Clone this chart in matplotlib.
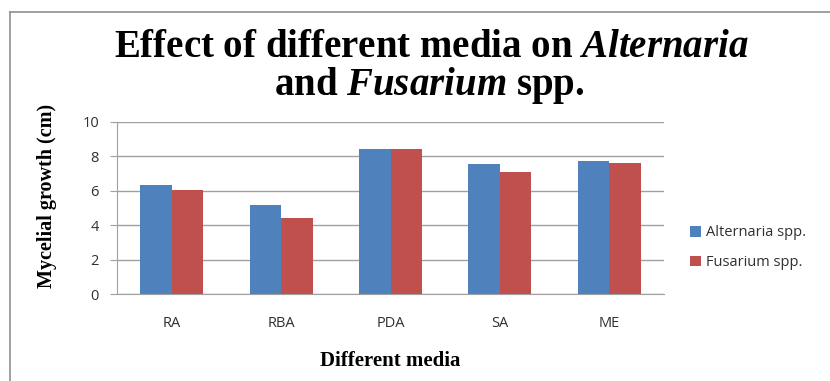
import matplotlib
matplotlib.use("Agg")
import matplotlib.pyplot as plt
from matplotlib.lines import Line2D
import numpy as np

# data
media = ["RA", "RBA", "PDA", "SA", "ME"]
alternaria = [6.34, 5.15, 8.45, 7.54, 7.72]
fusarium = [6.07, 4.41, 8.45, 7.12, 7.64]
series_names = ["Alternaria spp.", "Fusarium spp."]
yticks = [0, 2, 4, 6, 8, 10]

plt.rcParams['mathtext.fontset'] = 'custom'
plt.rcParams['mathtext.rm'] = 'Liberation Serif:bold'
plt.rcParams['mathtext.it'] = 'Liberation Serif:italic:bold'
plt.rcParams['mathtext.bf'] = 'Liberation Serif:bold'


def main():
    fig = plt.figure(figsize=(8.3, 3.81), dpi=100)
    ax = fig.add_axes([0.141, 0.228, 0.659, 0.452])

    x = np.arange(len(media))
    w = 0.288
    ax.bar(x - w / 2, alternaria, w, color="#4F81BD", label=series_names[0], zorder=3)
    ax.bar(x + w / 2, fusarium, w, color="#C0504D", label=series_names[1], zorder=3)

    ax.set_xlim(-0.5, len(media) - 0.5)
    ax.set_ylim(0, 10)
    ax.set_yticks(yticks)
    ax.set_xticks(x)
    ax.set_xticklabels(media)
    ax.yaxis.grid(True, color="#a0a0a0", linewidth=1.0, zorder=0)
    ax.set_axisbelow(True)

    for s in ["top", "right"]:
        ax.spines[s].set_visible(False)
    ax.spines["left"].set_color("#a0a0a0")
    ax.spines["bottom"].set_color("#a0a0a0")
    ax.tick_params(axis="y", length=5, color="#a0a0a0", labelsize=10.5,
                   labelcolor="#303030", pad=8)
    ax.tick_params(axis="x", length=0, labelsize=10.5, labelcolor="#303030", pad=16)
    for lab in ax.get_xticklabels() + ax.get_yticklabels():
        lab.set_family("Open Sans")

    ax.set_ylabel("Mycelial growth (cm)", family="Liberation Serif",
                  fontweight="bold", fontsize=14.5)
    ax.yaxis.set_label_coords(-0.11, 0.57)
    ax.set_xlabel("Different media", family="Liberation Serif",
                  fontweight="bold", fontsize=15, labelpad=14)

    fig.text(0.52, 1 - 57 / 381, r"Effect of different media on $\mathit{Alternaria}$",
             ha="center", va="baseline", fontsize=28, family="Liberation Serif",
             fontweight="bold")
    fig.text(0.517, 1 - 95 / 381, r"and $\mathit{Fusarium}$ spp.",
             ha="center", va="baseline", fontsize=28, family="Liberation Serif",
             fontweight="bold")

    leg = fig.legend(loc="center left", bbox_to_anchor=(0.815, 0.35),
                     frameon=False, handlelength=0.75, handleheight=0.75,
                     handletextpad=0.4, labelspacing=1.0,
                     prop={"family": "Open Sans", "size": 10.5})
    for t in leg.get_texts():
        t.set_color("#303030")

    # outer chart frame (cut off at right and bottom)
    fig.add_artist(Line2D([10 / 830, 1], [1 - 12 / 381] * 2, color="#909090", lw=1.2))
    fig.add_artist(Line2D([10 / 830] * 2, [0, 1 - 12 / 381], color="#909090", lw=1.2))

    fig.savefig("out.png", dpi=100)


if __name__ == "__main__":
    main()
